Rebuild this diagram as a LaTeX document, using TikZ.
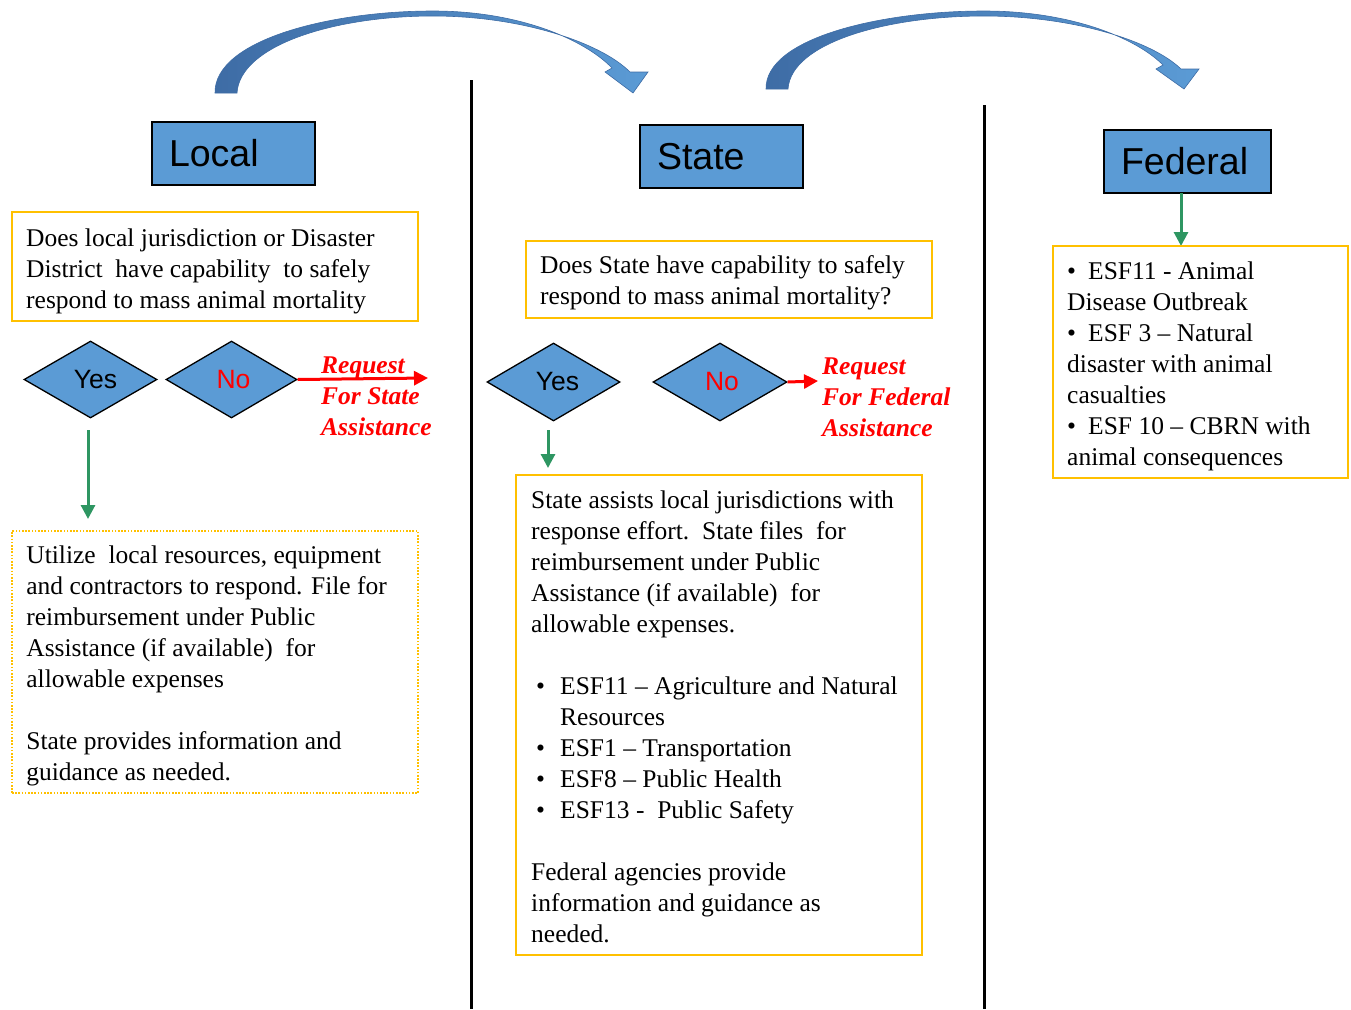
\documentclass[tikz,border=0pt]{standalone}
\usepackage{fontspec}
\setmainfont{Liberation Serif}
\setsansfont{Liberation Sans}
\usetikzlibrary{shapes.geometric,arrows.meta}
\definecolor{boxblue}{RGB}{91,155,213}
\definecolor{gold}{RGB}{255,192,0}
\definecolor{arrowgreen}{RGB}{46,150,98}
\definecolor{darkblue}{RGB}{62,108,165}
\begin{document}
\begin{tikzpicture}[x=1pt,y=-1pt,
  header/.style={draw=black,line width=2pt,fill=boxblue,minimum height=63pt,inner ysep=0pt,inner xsep=17pt,align=left,font=\sffamily\fontsize{37.5}{40}\selectfont},
  decision/.style={diamond,draw=black,line width=1.3pt,fill=boxblue,inner sep=0pt,font=\sffamily\fontsize{26.5}{28}\selectfont},
  goldbox/.style={draw=gold,line width=2pt,inner sep=0pt},
  dotbox/.style={draw=gold,line width=1.6pt,dash pattern=on 1.6pt off 1.6pt,inner sep=0pt},
  body/.style={align=left,inner sep=0pt,anchor=west,font=\fontsize{25.5}{31}\selectfont},
  reqtext/.style={align=left,inner sep=0pt,anchor=west,text=red,font=\bfseries\itshape\fontsize{25.5}{31}\selectfont},
  redarrow/.style={draw=red,line width=3pt,-{Triangle[length=14pt,width=14pt]}},
  greenarrow/.style={draw=arrowgreen,line width=3pt,-{Triangle[length=14pt,width=14pt]}},
  divider/.style={draw=black,line width=3pt},
  curvearrow/.style={left color=darkblue,right color=boxblue,draw=darkblue,line width=0.6pt}
]
\useasboundingbox (0,0) rectangle (1351,1009);

% curved arrows
\path[curvearrow] (215,93) .. controls (214,40) and (330,11) .. (433,11)
  .. controls (520,11) and (585,40) .. (612,68) -- (605,72) -- (633,93) -- (648,72) -- (630,72)
  .. controls (600,42) and (520,16) .. (433,16)
  .. controls (335,16) and (240,45) .. (237,93) -- cycle;
\path[curvearrow] (766,89) .. controls (765,38) and (881,11) .. (984,11)
  .. controls (1071,11) and (1136,38) .. (1163,65) -- (1156,69) -- (1184,89) -- (1199,69) -- (1181,69)
  .. controls (1151,40) and (1071,16) .. (984,16)
  .. controls (886,16) and (791,43) .. (788,89) -- cycle;

% dividers
\coordinate (d1t) at (471,80);
\coordinate (d1b) at (471,1009);
\coordinate (d2t) at (984,105);
\coordinate (d2b) at (984,1009);
\draw[divider] (d1t) -- (d1b);
\draw[divider] (d2t) -- (d2b);

% headers
\node[header,text width=129pt] (local) at (233.5,153.5) {Local};
\node[header,text width=129pt] (state) at (721.5,156.5) {State};
\node[header,text width=133pt] (federal) at (1187.5,161.5) {Federal};

% question boxes
\node[goldbox,minimum width=406pt,minimum height=109pt] (q1) at (215,266.5) {};
\node[body] (q1t) at ([xshift=15pt,yshift=-4.5pt]q1.west) {Does local jurisdiction or Disaster\\District\ \ have capability\ \ to safely\\respond to mass animal mortality};
\node[goldbox,minimum width=406pt,minimum height=77pt] (q2) at (729,279.5) {};
\node[body] (q2t) at ([xshift=15pt,yshift=-3pt]q2.west) {Does State have capability\ to safely\\respond to mass animal mortality?};

% decisions
\node[decision,minimum width=133pt,minimum height=77pt] (lyes) at (90.5,379.5) {\hspace*{10pt}Yes};
\node[decision,minimum width=131pt,minimum height=77pt,text=red] (lno) at (231.5,379.5) {\hspace*{4pt}No};
\node[decision,minimum width=133pt,minimum height=78pt] (syes) at (553.5,382) {\hspace*{8pt}Yes};
\node[decision,minimum width=134pt,minimum height=78pt,text=red] (sno) at (720,382) {\hspace*{4pt}No};

% requests
\coordinate (lredend) at (428,378);
\draw[redarrow] (lno.east) -- (lredend);
\node[reqtext] (lreq) at (321,396) {Request\\For State\\Assistance};
\coordinate (sredend) at (818,381);
\draw[redarrow] (sno.east) -- (sredend);
\node[reqtext] (sreq) at (822,397) {Request\\For Federal\\Assistance};

% green arrows
\coordinate (g1s) at (88,430);
\coordinate (g1e) at (88,519);
\draw[greenarrow] (g1s) -- (g1e);
\coordinate (g2s) at (548,430);
\coordinate (g2e) at (548,468);
\draw[greenarrow] (g2s) -- (g2e);
\coordinate (g3s) at (1181,193);
\coordinate (g3e) at (1181,246);
\draw[greenarrow] (g3s) -- (g3e);

% local result box
\node[dotbox,minimum width=406pt,minimum height=262pt] (lres) at (215,662) {};
\node[body] (lrest) at ([xshift=15pt,yshift=-3.5pt]lres.west) {Utilize\ \ local resources, equipment\\and contractors to respond. File\ for\\reimbursement under Public\\Assistance (if available)\ \ for\\allowable\ expenses\\[31pt]State provides information and\\guidance as needed.};

% state result box
\node[goldbox,minimum width=406pt,minimum height=480pt] (sres) at (719,715) {};
\node[body] (srest) at ([xshift=16pt,yshift=-1.5pt]sres.west) {State assists local jurisdictions with\\response effort.\ \ State files\ \ for\\reimbursement under Public\\Assistance (if available)\ \ for\\allowable\ expenses.\\[31pt]
\hspace*{5pt}\makebox[24pt][l]{\textbullet}ESF11 -- Agriculture\ and Natural\\
\hspace*{29pt}Resources\\
\hspace*{5pt}\makebox[24pt][l]{\textbullet}ESF1 -- Transportation\\
\hspace*{5pt}\makebox[24pt][l]{\textbullet}ESF8 -- Public Health\\
\hspace*{5pt}\makebox[24pt][l]{\textbullet}ESF13 -\ \ Public Safety\\[31pt]
Federal agencies provide\\information and guidance as\\needed.};

% federal box
\node[goldbox,minimum width=295pt,minimum height=232pt] (fres) at (1200.5,362) {};
\node[body] (frest) at ([xshift=15pt,yshift=-4pt]fres.west) {\makebox[21pt][l]{\textbullet}ESF11 - Animal\\Disease Outbreak\\\makebox[21pt][l]{\textbullet}ESF 3 -- Natural\\disaster with animal\\casualties\\\makebox[21pt][l]{\textbullet}ESF 10 -- CBRN with\\animal consequences};
\end{tikzpicture}
\end{document}
